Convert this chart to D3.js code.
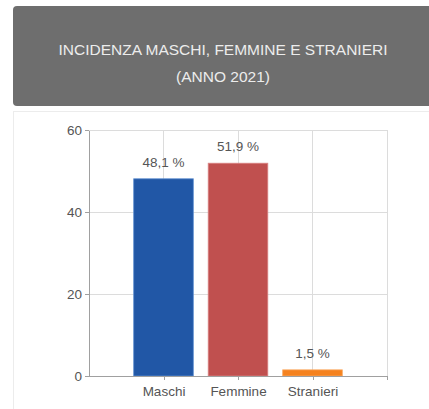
<!DOCTYPE html>
<html>
<head>
<meta charset="utf-8">
<script src="https://cdn.jsdelivr.net/npm/d3@7/dist/d3.min.js"></script>
<style>
  body { margin: 0; background: #fff; }
  text { font-family: "Liberation Sans", Arial, sans-serif; }
  .axis path, .axis line { stroke: #a0a0a0; shape-rendering: crispEdges; }
  .axis text { fill: #555; font-size: 13.5px; }
  .grid line { stroke: #dcdcdc; shape-rendering: crispEdges; }
</style>
</head>
<body>
<svg id="chart"></svg>
<script>
// chart data
var categories = ["Maschi", "Femmine", "Stranieri"];
var values = [48.1, 51.9, 1.5];
var valueLabels = ["48,1 %", "51,9 %", "1,5 %"];
var barColors = ["#2157a6", "#c0504f", "#f5821f"];
var barEdges = ["#5f8fd0", "#d98484", "#f9a860"];
var yTicks = [0, 20, 40, 60];
var titleLines = ["INCIDENZA MASCHI, FEMMINE E STRANIERI", "(ANNO 2021)"];

var W = 429, H = 409;
var svg = d3.select("#chart").attr("width", W).attr("height", H);

// card behind the chart
svg.append("rect")
  .attr("x", 13.5).attr("y", 111.5)
  .attr("width", 430).attr("height", 310)
  .style("fill", "#fff").style("stroke", "#ececec");

// grey title box
svg.append("rect")
  .attr("x", 13).attr("y", 6)
  .attr("width", 430).attr("height", 100)
  .attr("rx", 4)
  .style("fill", "#6e6e6e");

svg.selectAll("text.title")
  .data(titleLines)
  .enter()
  .append("text")
  .attr("class", "title")
  .attr("x", 223)
  .attr("y", function(d, i) { return 55 + i * 27; })
  .attr("text-anchor", "middle")
  .style("fill", "#ececec")
  .style("font-size", "15.5px")
  .text(function(d) { return d; });

// scales: categories sit at 1..3 on a 0..4 axis
var x = d3.scaleLinear().domain([0, 4]).range([89, 387]);
var y = d3.scaleLinear().domain([0, 60]).range([376, 130]);
var step = x(1) - x(0);
var barW = step * 0.8;

// gridlines
svg.append("g").attr("class", "grid")
  .selectAll("line.h")
  .data(yTicks.slice(1))
  .enter().append("line")
  .attr("x1", x(0)).attr("x2", x(4))
  .attr("y1", function(d) { return y(d); })
  .attr("y2", function(d) { return y(d); });

svg.append("g").attr("class", "grid")
  .selectAll("line.v")
  .data([1, 2, 3, 4])
  .enter().append("line")
  .attr("x1", function(d) { return x(d); })
  .attr("x2", function(d) { return x(d); })
  .attr("y1", y(60)).attr("y2", y(0));

// bars
svg.selectAll("rect.bar")
  .data(values)
  .enter()
  .append("rect")
  .attr("class", "bar")
  .attr("x", function(d, i) { return x(i + 1) - barW / 2; })
  .attr("y", function(d) { return y(d); })
  .attr("width", barW)
  .attr("height", function(d) { return y(0) - y(d); })
  .style("fill", function(d, i) { return barColors[i]; })
  .style("stroke", function(d, i) { return barEdges[i]; })
  .style("stroke-width", 0.8);

// value labels
svg.selectAll("text.val")
  .data(values)
  .enter()
  .append("text")
  .attr("class", "val")
  .attr("x", function(d, i) { return x(i + 1); })
  .attr("y", function(d) { return y(d) - 12; })
  .attr("text-anchor", "middle")
  .style("fill", "#555")
  .style("font-size", "13.5px")
  .text(function(d, i) { return valueLabels[i]; });

// axes
svg.append("g")
  .attr("class", "axis")
  .attr("transform", "translate(" + x(0) + ",0)")
  .call(d3.axisLeft(y).tickValues(yTicks).tickSize(4).tickPadding(3).tickSizeOuter(0));

svg.append("g")
  .attr("class", "axis")
  .attr("transform", "translate(0," + y(0) + ")")
  .call(d3.axisBottom(x).tickValues([1, 2, 3, 4]).tickSize(4).tickPadding(6).tickSizeOuter(0)
    .tickFormat(function(d) { return categories[d - 1] || ""; }));
</script>
</body>
</html>
